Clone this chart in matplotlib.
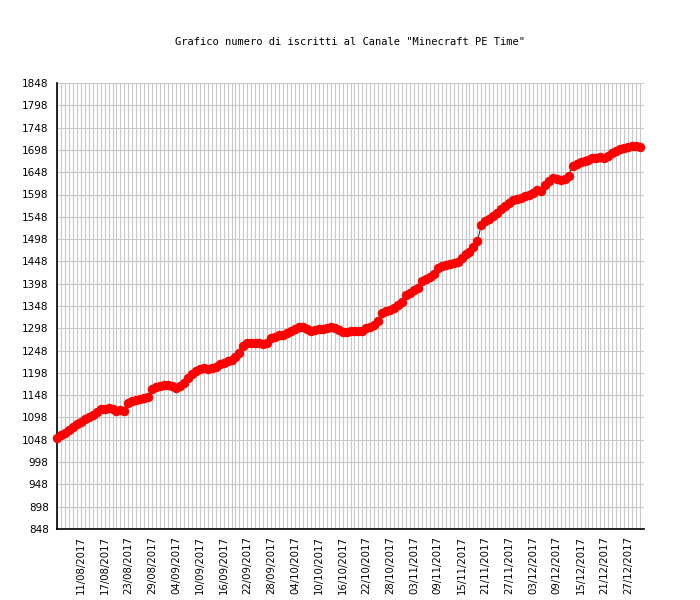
import datetime as dt
import matplotlib
matplotlib.use("Agg")
import matplotlib.pyplot as plt
import matplotlib.dates as mdates

# iscritti giornalieri dal 05/08/2017
start_date = dt.date(2017, 8, 5)
subscribers = [
    1052, 1058, 1064, 1070, 1077, 1083, 1088, 1094, 1099, 1104,
    1110, 1116, 1118, 1119, 1116, 1112, 1115, 1112, 1130, 1134,
    1137, 1140, 1142, 1144, 1162, 1166, 1168, 1170, 1171, 1168,
    1165, 1169, 1175, 1186, 1196, 1203, 1207, 1208, 1207, 1208,
    1212, 1217, 1221, 1225, 1228, 1234, 1243, 1258, 1264, 1265,
    1266, 1264, 1262, 1265, 1276, 1279, 1282, 1284, 1288, 1292,
    1296, 1300, 1301, 1296, 1292, 1294, 1296, 1297, 1298, 1300,
    1299, 1295, 1290, 1290, 1291, 1292, 1291, 1292, 1298, 1302,
    1305, 1315, 1332, 1336, 1338, 1343, 1350, 1356, 1372, 1378,
    1383, 1388, 1404, 1408, 1413, 1420, 1434, 1437, 1440, 1442,
    1444, 1446, 1455, 1464, 1470, 1480, 1494, 1530, 1538, 1544,
    1550, 1556, 1565, 1572, 1580, 1586, 1589, 1590, 1594, 1598,
    1602, 1607, 1606, 1620, 1628, 1634, 1632, 1631, 1632, 1640,
    1662, 1666, 1670, 1673, 1676, 1680, 1680, 1681, 1680, 1684,
    1690, 1695, 1699, 1703, 1705, 1707, 1707, 1704,
]
tick_labels = [
    "11/08/2017", "17/08/2017", "23/08/2017", "29/08/2017", "04/09/2017",
    "10/09/2017", "16/09/2017", "22/09/2017", "28/09/2017", "04/10/2017",
    "10/10/2017", "16/10/2017", "22/10/2017", "28/10/2017", "03/11/2017",
    "09/11/2017", "15/11/2017", "21/11/2017", "27/11/2017", "03/12/2017",
    "09/12/2017", "15/12/2017", "21/12/2017", "27/12/2017",
]
y_ticks = list(range(848, 1849, 50))

days = [start_date + dt.timedelta(days=i) for i in range(len(subscribers))]
tick_dates = [dt.datetime.strptime(s, "%d/%m/%Y").date() for s in tick_labels]

fig = plt.figure(figsize=(7, 6), dpi=100)
ax = fig.add_axes([57 / 700, 1 - 529 / 600, 587 / 700, 446 / 600])

ax.plot(days, subscribers, color="black", linewidth=0.6,
        marker="o", markersize=5.8, markerfacecolor="#ff0000",
        markeredgecolor="#ff0000", zorder=3, clip_on=False)

ax.set_xlim(start_date, start_date + dt.timedelta(days=148))
ax.set_ylim(848, 1848)

# griglia: una linea verticale per giorno, orizzontale per ogni tick
ax.xaxis.set_minor_locator(mdates.DayLocator())
ax.xaxis.remove_overlapping_locs = False
ax.set_xticks(tick_dates)
ax.set_xticklabels(tick_labels, rotation=90, fontsize=7.3)
ax.set_yticks(y_ticks)
ax.set_yticklabels([str(v) for v in y_ticks], fontsize=7.5)
ax.grid(True, which="minor", axis="x", color="#c8c8c8", linewidth=0.8)
ax.grid(True, which="major", axis="y", color="#c8c8c8", linewidth=0.8)
ax.tick_params(axis="both", which="both", length=0)
ax.tick_params(axis="y", pad=6)
ax.tick_params(axis="x", pad=5)
ax.set_axisbelow(True)

for side in ["top", "right"]:
    ax.spines[side].set_visible(False)
for side in ["left", "bottom"]:
    ax.spines[side].set_color("black")
    ax.spines[side].set_linewidth(1.2)

fig.text(0.5, 1 - 42 / 600, 'Grafico numero di iscritti al Canale "Minecraft PE Time"',
         ha="center", va="center", fontsize=7.5, family="DejaVu Sans Mono")

fig.savefig("out.png", dpi=100)
